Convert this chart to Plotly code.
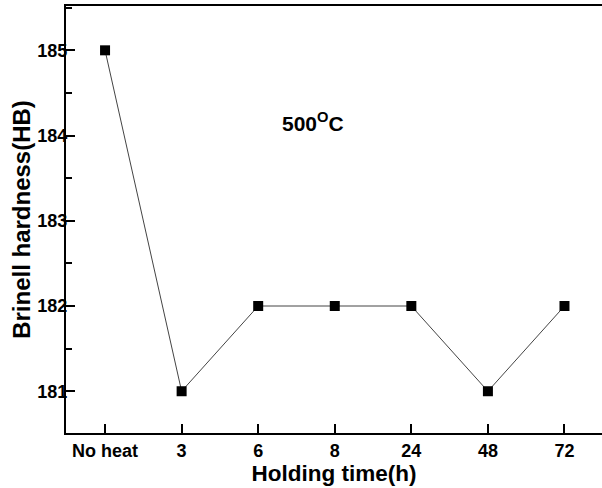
import plotly.graph_objects as go

categories = ["No heat", "3", "6", "8", "24", "48", "72"]
hardness = [185, 181, 182, 182, 182, 181, 182]

font = "Liberation Sans, Arial, sans-serif"

fig = go.Figure()
fig.add_trace(go.Scatter(
    x=list(range(len(categories))), y=hardness,
    mode="lines+markers",
    line=dict(color="#444444", width=1),
    marker=dict(symbol="square", size=10, color="black"),
    showlegend=False,
))

fig.update_layout(
    width=602, height=488,
    margin=dict(l=66, r=0, t=6, b=55, autoexpand=False),
    paper_bgcolor="white", plot_bgcolor="white",
    font=dict(family=font, color="black"),
)
fig.update_xaxes(
    range=[-0.51, 6.49], automargin=False,
    tickmode="array", tickvals=list(range(len(categories))), ticktext=categories,
    ticks="inside", ticklen=9, tickwidth=2, tickcolor="black",
    showline=True, linecolor="black", linewidth=2, mirror=True,
    showgrid=False, zeroline=False,
    tickfont=dict(family=font, size=18, color="black", weight="bold"),
    title=dict(text="Holding time(h)", font=dict(family=font, size=22.5, weight="bold"), standoff=0),
)
fig.update_yaxes(
    range=[180.51, 185.52], automargin=False,
    tickmode="linear", tick0=181, dtick=1,
    ticks="inside", ticklen=9, tickwidth=2, tickcolor="black",
    minor=dict(tickmode="linear", tick0=180.5, dtick=0.5, ticks="inside", ticklen=6, tickwidth=2, tickcolor="black", showgrid=False),
    showline=True, linecolor="black", linewidth=2,
    showgrid=False, zeroline=False,
    ticklabelstandoff=-7,
    tickfont=dict(family=font, size=18, color="black", weight="bold"),
    title=dict(text="Brinell hardness(HB)", font=dict(family=font, size=24, weight="bold"), standoff=0),
)
fig.add_annotation(
    x=0.461, y=0.7645, xref="paper", yref="paper",
    text="500<sup>O</sup>C", showarrow=False,
    font=dict(family=font, size=21, color="black", weight="bold"),
)
fig.write_html("out.html", config={"displayModeBar": False},
               post_script="document.body.style.margin='0';document.body.style.padding='0';")
